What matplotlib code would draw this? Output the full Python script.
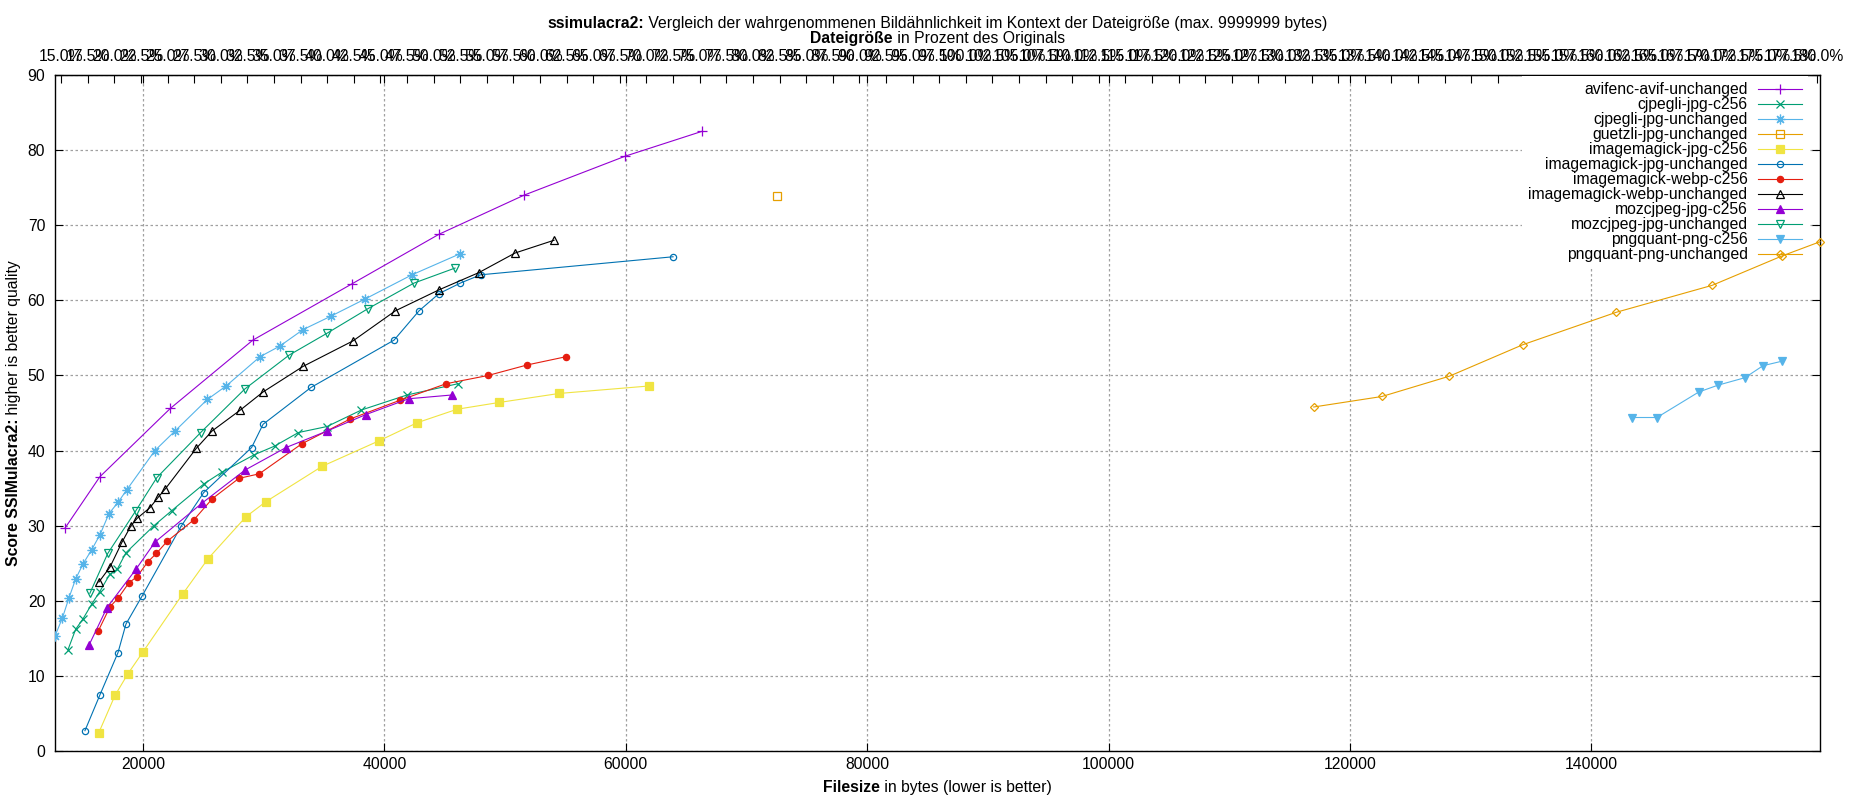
import numpy as np
import matplotlib
matplotlib.use("Agg")
import matplotlib.pyplot as plt
from matplotlib.transforms import IdentityTransform

plt.rcParams['font.family'] = ['Liberation Sans', 'DejaVu Sans']

# ---------------- data ----------------
SERIES = [
    "avifenc-avif-unchanged", "cjpegli-jpg-c256", "cjpegli-jpg-unchanged",
    "guetzli-jpg-unchanged", "imagemagick-jpg-c256", "imagemagick-jpg-unchanged",
    "imagemagick-webp-c256", "imagemagick-webp-unchanged", "mozcjpeg-jpg-c256",
    "mozcjpeg-jpg-unchanged", "pngquant-png-c256", "pngquant-png-unchanged",
]

avif_x = [13550, 16420, 22260, 29100, 37320, 44530, 51570, 59970, 66320]
avif_y = [29.7, 36.5, 45.6, 54.7, 62.2, 68.8, 74.0, 79.2, 82.5]

cjpegli_c256_x = [13790, 14420, 15030, 15770, 16410, 17240, 17870, 18590, 20910, 22380,
                  25080, 26520, 29170, 30910, 32880, 35250, 38100, 41880, 46110]
cjpegli_c256_y = [13.5, 16.2, 17.6, 19.6, 21.2, 23.5, 24.2, 26.4, 30.0, 32.0,
                  35.6, 37.1, 39.4, 40.6, 42.4, 43.2, 45.4, 47.4, 48.9]

cjpegli_unch_x = [12710, 13320, 13870, 14420, 15030, 15750, 16440, 17180, 17930, 18670,
                  20990, 22650, 25330, 26890, 29700, 31330, 33260, 35580, 38430, 42290, 46270]
cjpegli_unch_y = [15.3, 17.7, 20.4, 22.9, 24.9, 26.8, 28.8, 31.6, 33.1, 34.8,
                  40.0, 42.6, 46.8, 48.6, 52.5, 53.9, 56.1, 57.9, 60.2, 63.4, 66.2]

guetzli_x = [72540]
guetzli_y = [73.9]

im_jpg_c256_x = [16330, 17680, 18760, 20000, 23290, 25390, 28540, 30190, 34840, 39560,
                 42710, 46020, 49500, 54470, 61950]
im_jpg_c256_y = [2.4, 7.4, 10.3, 13.2, 20.9, 25.6, 31.2, 33.2, 37.9, 41.3,
                 43.7, 45.5, 46.4, 47.6, 48.6]

im_jpg_unch_x = [15190, 16440, 17930, 18590, 19950, 23150, 25030, 29000, 29950, 33920,
                 40800, 42870, 44530, 46300, 47980, 63920]
im_jpg_unch_y = [2.7, 7.5, 13.1, 16.9, 20.7, 29.9, 34.4, 40.4, 43.5, 48.4,
                 54.7, 58.6, 60.9, 62.3, 63.4, 65.8]

im_webp_c256_x = [16300, 17270, 17960, 18840, 19500, 20410, 21110, 21990, 24230, 25750,
                  27950, 29630, 33160, 37160, 41300, 45120, 48600, 51840, 55070]
im_webp_c256_y = [16.0, 19.2, 20.4, 22.4, 23.2, 25.2, 26.3, 27.9, 30.8, 33.6,
                  36.3, 36.9, 40.9, 44.2, 46.7, 48.9, 50.0, 51.4, 52.5]

im_webp_unch_x = [16350, 17270, 18260, 19010, 19530, 20580, 21270, 21850, 24420, 25720,
                  28070, 29950, 33260, 37400, 40910, 44530, 47840, 50830, 54060]
im_webp_unch_y = [22.5, 24.5, 27.8, 30.0, 31.0, 32.4, 33.8, 34.9, 40.3, 42.6,
                  45.4, 47.8, 51.2, 54.6, 58.6, 61.4, 63.7, 66.3, 68.0]

moz_c256_x = [15530, 17020, 19420, 20990, 24890, 28450, 31850, 35250, 38480, 42020, 45610]
moz_c256_y = [14.1, 19.1, 24.2, 27.8, 33.0, 37.4, 40.4, 42.6, 44.8, 46.9, 47.4]

moz_unch_x = [15600, 17080, 19410, 21150, 24780, 28440, 32100, 35230, 38650, 42460, 45860]
moz_unch_y = [21.0, 26.3, 32.0, 36.4, 42.4, 48.2, 52.7, 55.6, 58.9, 62.3, 64.3]

pngq_c256_x = [143390, 145440, 148910, 150490, 152730, 154230, 155810]
pngq_c256_y = [44.4, 44.4, 47.8, 48.7, 49.7, 51.3, 51.9]

pngq_unch_x = [117000, 122660, 128240, 134340, 142050, 150020, 155790, 158950]
pngq_unch_y = [45.8, 47.2, 49.9, 54.1, 58.4, 62.0, 65.9, 67.8]

SERIES_X = [avif_x, cjpegli_c256_x, cjpegli_unch_x, guetzli_x, im_jpg_c256_x, im_jpg_unch_x,
            im_webp_c256_x, im_webp_unch_x, moz_c256_x, moz_unch_x, pngq_c256_x, pngq_unch_x]
SERIES_Y = [avif_y, cjpegli_c256_y, cjpegli_unch_y, guetzli_y, im_jpg_c256_y, im_jpg_unch_y,
            im_webp_c256_y, im_webp_unch_y, moz_c256_y, moz_unch_y, pngq_c256_y, pngq_unch_y]

ORIG_BYTES = 88170
X_TICKS = [20000, 40000, 60000, 80000, 100000, 120000, 140000]
Y_TICKS = [0, 10, 20, 30, 40, 50, 60, 70, 80, 90]
X2_TICKS = np.arange(15.0, 180.01, 2.5)

# ---------------- style ----------------
COLORS = ['#9400d3', '#009e73', '#56b4e9', '#e69f00', '#f0e442', '#0072b2',
          '#e51e10', '#000000', '#9400d3', '#009e73', '#56b4e9', '#e69f00']
MARKERS = ['+', 'x', (8, 2, 0), 's', 's', 'o', 'o', '^', '^', 'v', 'v', 'D']
FILLED = [False, False, False, False, True, False, True, False, True, False, True, False]
MSIZE = [7, 6, 7, 5.5, 5.5, 4.5, 4.5, 6, 6, 6, 6, 4.5]

W, H = 1850, 800
FS = 11.3
fig = plt.figure(figsize=(W / 100, H / 100), dpi=100)
L, R, T, B = 55, 1820, 75, 751
ax = fig.add_axes([L / W, 1 - B / H, (R - L) / W, (B - T) / H])

for i, name in enumerate(SERIES):
    c = COLORS[i]
    ax.plot(SERIES_X[i], SERIES_Y[i], color=c, lw=0.8, marker=MARKERS[i],
            ms=MSIZE[i], mew=0.9, mec=c, mfc=c if FILLED[i] else 'none',
            label=name, zorder=3, clip_on=False if i == 11 else True)

allx = [v for xs in SERIES_X for v in xs]
ax.set_xlim(min(allx), max(allx))
ax.set_ylim(0, 90)
ax.set_xticks(X_TICKS)
ax.set_yticks(Y_TICKS)
ax.set_xticklabels([str(v) for v in X_TICKS])
ax.set_yticklabels([str(v) for v in Y_TICKS])
ax.tick_params(direction='in', length=5.8, width=0.8, top=True, right=True,
               labelsize=FS, colors='black')
ax.tick_params(axis='x', pad=4)
ax.tick_params(axis='y', pad=7)
ax.set_axisbelow(True)
ax.grid(True, color='#a0a0a0', lw=0.9, linestyle=(0, (2.0, 2.0)))
for s in ax.spines.values():
    s.set_linewidth(1.0)

sec = ax.secondary_xaxis('top', functions=(lambda b: np.asarray(b) / ORIG_BYTES * 100.0,
                                           lambda p: np.asarray(p) * ORIG_BYTES / 100.0))
sec.set_xticks(X2_TICKS)
sec.set_xticklabels(["%.1f%%" % v for v in X2_TICKS])
sec.tick_params(direction='in', length=5.8, width=0.8, labelsize=FS, pad=8)

leg = ax.legend(loc='upper right', bbox_to_anchor=(1808 / W, 1 - 76 / H),
                bbox_transform=fig.transFigure, markerfirst=False, fontsize=FS,
                frameon=True, fancybox=False, framealpha=1.0, edgecolor='none',
                facecolor='white', borderpad=0.4, labelspacing=0.0,
                handlelength=2.8, handletextpad=0.65, borderaxespad=0)
leg.set_zorder(2.8)

# ---------------- mixed bold/normal texts ----------------
renderer = fig.canvas.get_renderer()


def mixed(parts, cx, base, rotation=0):
    objs = []
    for s, wgt in parts:
        o = fig.text(0, 0, s, fontsize=FS, fontweight=wgt, rotation=rotation,
                     rotation_mode='anchor', ha='left', va='baseline',
                     transform=IdentityTransform())
        objs.append(o)
    sizes = []
    for o in objs:
        bb = o.get_window_extent(renderer)
        sizes.append(bb.width if rotation == 0 else bb.height)
    pos = cx - sum(sizes) / 2.0
    for o, sz in zip(objs, sizes):
        if rotation == 0:
            o.set_position((pos, base))
        else:
            o.set_position((base, pos))
        pos += sz


cx = (L + R) / 2.0
mixed([("ssimulacra2:", 'bold'),
       (" Vergleich der wahrgenommenen Bildähnlichkeit im Kontext der Dateigröße (max. 9999999 bytes)", 'normal')],
      cx, H - 28)
mixed([("Dateigröße", 'bold'), (" in Prozent des Originals", 'normal')], cx, H - 43)
mixed([("Filesize", 'bold'), (" in bytes (lower is better)", 'normal')], cx, H - 792)
mixed([("Score SSIMulacra2:", 'bold'), (" higher is better quality", 'normal')],
      H - (B + T) / 2.0, 18, rotation=90)

fig.savefig("out.png", dpi=100)
